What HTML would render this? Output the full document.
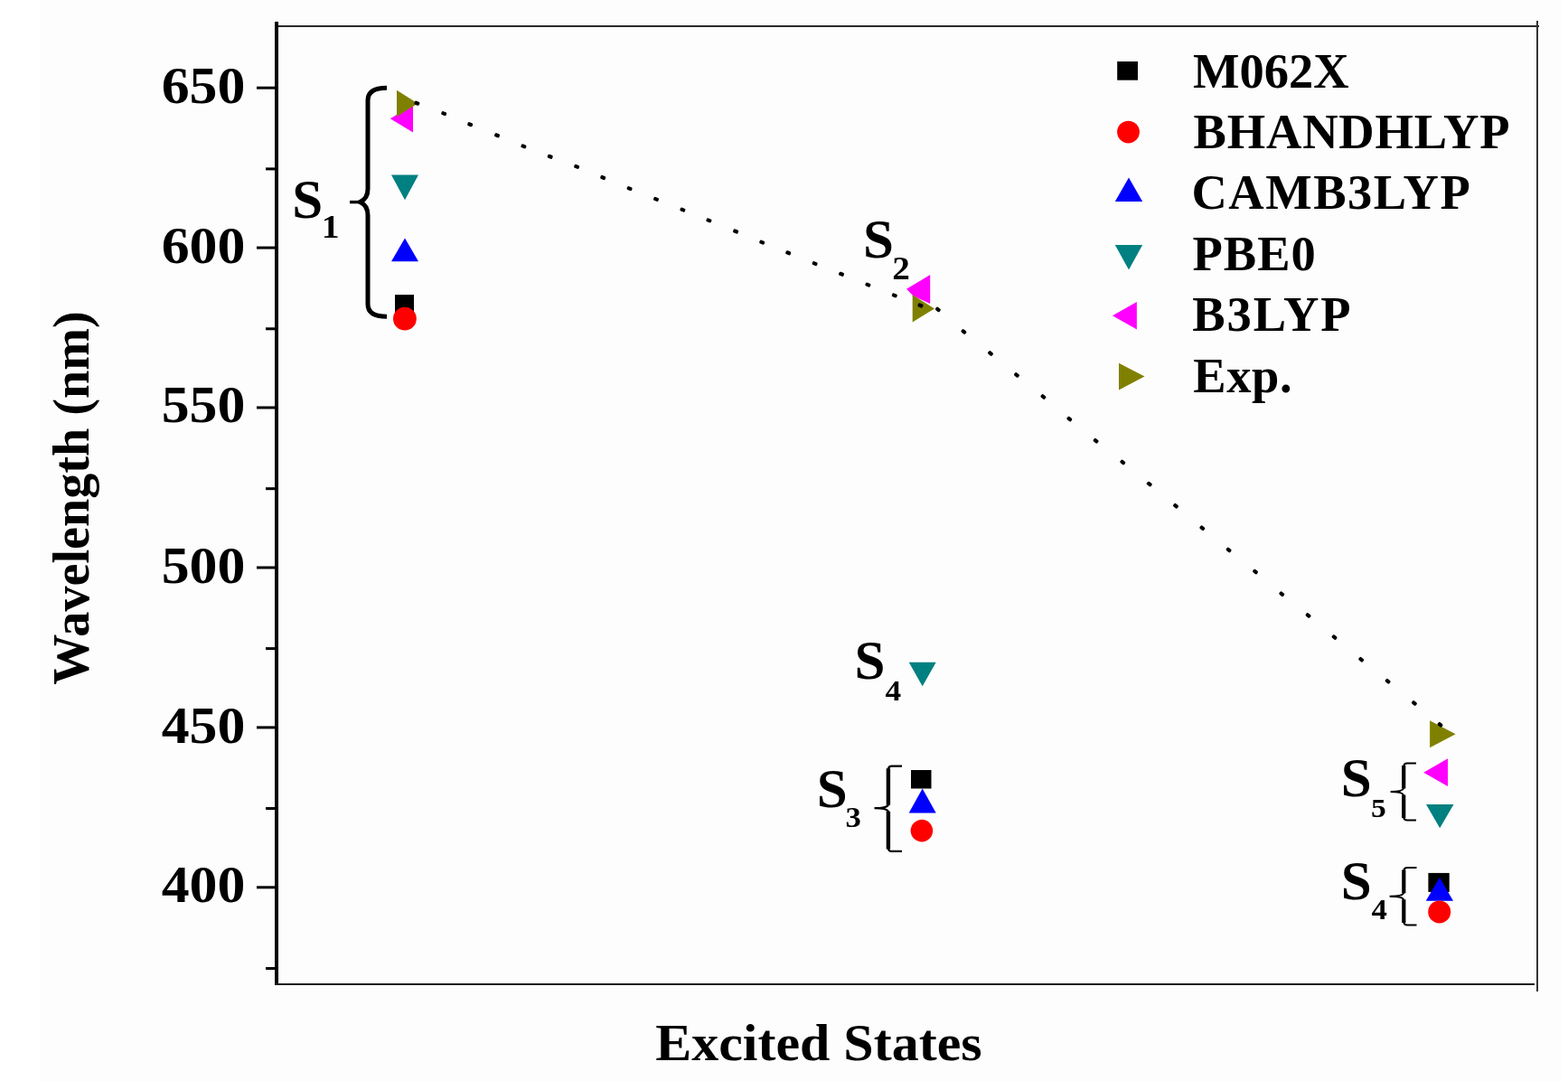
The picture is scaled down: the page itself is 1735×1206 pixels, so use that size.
<!DOCTYPE html>
<html><head><meta charset="utf-8"><title>Wavelength vs Excited States</title>
<style>
html,body{margin:0;padding:0;background:#fff;width:1735px;height:1206px;overflow:hidden}
svg{position:absolute;left:0;top:0;display:block}
text{font-family:"Liberation Serif","Times New Roman",serif;font-weight:bold;fill:#000}
</style></head><body>
<svg width="1735" height="1206" viewBox="0 0 1735 1206">
<rect x="44" y="0" width="1683" height="1197" fill="#fdfdfd"/>

<g shape-rendering="crispEdges">
<rect x="305" y="28" width="1398" height="2" fill="#2a2a2a"/>
<rect x="304" y="24" width="3.5" height="1066" fill="#000"/>
<rect x="304" y="1088" width="1394" height="2" fill="#1a1a1a"/>
<rect x="1700" y="23" width="2" height="1074" fill="#333"/>
</g>
<rect x="284" y="95.7" width="21" height="3" fill="#000"/>
<rect x="284" y="272.6" width="21" height="3" fill="#000"/>
<rect x="284" y="449.5" width="21" height="3" fill="#000"/>
<rect x="284" y="626.5" width="21" height="3" fill="#000"/>
<rect x="284" y="803.4" width="21" height="3" fill="#000"/>
<rect x="284" y="980.3" width="21" height="3" fill="#000"/>
<rect x="294" y="185.4" width="11" height="3" fill="#000"/>
<rect x="294" y="362.3" width="11" height="3" fill="#000"/>
<rect x="294" y="539.2" width="11" height="3" fill="#000"/>
<rect x="294" y="716.1" width="11" height="3" fill="#000"/>
<rect x="294" y="893.0" width="11" height="3" fill="#000"/>
<rect x="294" y="1070.0" width="11" height="3" fill="#000"/>
<text transform="translate(271.3 113.7) scale(1.065 1)" font-size="58" text-anchor="end">650</text>
<text transform="translate(271.3 290.5) scale(1.065 1)" font-size="58" text-anchor="end">600</text>
<text transform="translate(271.3 467.3) scale(1.065 1)" font-size="58" text-anchor="end">550</text>
<text transform="translate(271.3 644.9) scale(1.065 1)" font-size="58" text-anchor="end">500</text>
<text transform="translate(271.3 821.7) scale(1.065 1)" font-size="58" text-anchor="end">450</text>
<text transform="translate(271.3 998.4) scale(1.065 1)" font-size="58" text-anchor="end">400</text>
<text transform="translate(725.2 1172.5) scale(1.034 1)" font-size="58">Excited States</text>
<text transform="translate(97.8 757.8) rotate(-90)" font-size="56.2">Wavelength (nm)</text>
<g>
<polygon points="433.0,193.4 463.0,193.4 448.0,221.2" fill="#008080"/>
<polygon points="433.0,289.3 448.0,263.4 463.0,289.3" fill="#0000ff"/>
<rect x="437" y="326.1" width="21" height="21" fill="#000000"/>
<circle cx="447.9" cy="352.7" r="12.9" fill="#ff0000"/>
<polygon points="431.8,131.2 457.0,115.9 457.0,146.5" fill="#ff00ff"/>
<polygon points="439.0,99.8 462.3,114.4 439.0,129.0" fill="#808000"/>
<polygon points="1005.7,732.8 1035.7,732.8 1020.7,759.3" fill="#008080"/>
<rect x="1008" y="852" width="22.5" height="20.5" fill="#000000"/>
<polygon points="1005.7,899.5 1020.7,872.5 1035.7,899.5" fill="#0000ff"/>
<circle cx="1019.9" cy="919.1" r="12.3" fill="#ff0000"/>
<polygon points="1003.1,319.8 1029.2,303.9 1029.2,336 1010.6,327.5" fill="#ff00ff"/>
<polygon points="1009.7,326.3 1034.0,341.4 1009.7,356.4" fill="#808000"/>
<polygon points="1578.0,890.0 1608.5,890.0 1593.2,916.3" fill="#008080"/>
<rect x="1580.4" y="965.9" width="23.3" height="21" fill="#000000"/>
<polygon points="1577.8,996.7 1592.9,970.8 1608.0,996.7" fill="#0000ff"/>
<circle cx="1592.7" cy="1008.9" r="12.5" fill="#ff0000"/>
<polygon points="1575.2,854.7 1602.0,839.3 1602.0,870.1" fill="#ff00ff"/>
<polygon points="1582.1,797.2 1610.6,812.3 1582.1,827.3" fill="#808000"/>
</g>
<g>
<rect x="458.5" y="112.1" width="5.8" height="4.2" rx="1.5" transform="rotate(21.9 461.4 114.2)" fill="#000"/>
<rect x="488.3" y="123.5" width="5.8" height="4.2" rx="1.5" transform="rotate(21.9 491.2 125.6)" fill="#000"/>
<rect x="517.3" y="135.6" width="5.8" height="4.2" rx="1.5" transform="rotate(21.9 520.2 137.7)" fill="#000"/>
<rect x="547.1" y="147.7" width="5.8" height="4.2" rx="1.5" transform="rotate(21.9 550.0 149.8)" fill="#000"/>
<rect x="576.5" y="159.8" width="5.8" height="4.2" rx="1.5" transform="rotate(21.9 579.4 161.9)" fill="#000"/>
<rect x="605.8" y="171.2" width="5.8" height="4.2" rx="1.5" transform="rotate(21.9 608.7 173.3)" fill="#000"/>
<rect x="635.2" y="182.3" width="5.8" height="4.2" rx="1.5" transform="rotate(21.9 638.1 184.4)" fill="#000"/>
<rect x="664.3" y="194.4" width="5.8" height="4.2" rx="1.5" transform="rotate(21.9 667.2 196.5)" fill="#000"/>
<rect x="693.7" y="206.5" width="5.8" height="4.2" rx="1.5" transform="rotate(21.9 696.6 208.6)" fill="#000"/>
<rect x="723.1" y="218.3" width="5.8" height="4.2" rx="1.5" transform="rotate(21.9 726.0 220.4)" fill="#000"/>
<rect x="752.5" y="230.0" width="5.8" height="4.2" rx="1.5" transform="rotate(21.9 755.4 232.1)" fill="#000"/>
<rect x="781.5" y="241.8" width="5.8" height="4.2" rx="1.5" transform="rotate(21.9 784.4 243.9)" fill="#000"/>
<rect x="811.2" y="253.9" width="5.8" height="4.2" rx="1.5" transform="rotate(21.9 814.1 256.0)" fill="#000"/>
<rect x="840.3" y="266.0" width="5.8" height="4.2" rx="1.5" transform="rotate(21.9 843.2 268.1)" fill="#000"/>
<rect x="869.3" y="277.7" width="5.8" height="4.2" rx="1.5" transform="rotate(21.9 872.2 279.8)" fill="#000"/>
<rect x="898.7" y="289.5" width="5.8" height="4.2" rx="1.5" transform="rotate(21.9 901.6 291.6)" fill="#000"/>
<rect x="928.1" y="301.2" width="5.8" height="4.2" rx="1.5" transform="rotate(21.9 931.0 303.3)" fill="#000"/>
<rect x="957.5" y="313.0" width="5.8" height="4.2" rx="1.5" transform="rotate(21.9 960.4 315.1)" fill="#000"/>
<rect x="986.9" y="324.8" width="5.8" height="4.2" rx="1.5" transform="rotate(21.9 989.8 326.9)" fill="#000"/>
<rect x="1015.6" y="335.9" width="5.8" height="4.2" rx="1.5" transform="rotate(21.9 1018.5 338.0)" fill="#000"/>
<rect x="1035.0" y="340.3" width="5.8" height="4.2" rx="1.5" transform="rotate(39.5 1037.9 342.4)" fill="#000"/>
<rect x="1063.5" y="364.9" width="5.8" height="4.2" rx="1.5" transform="rotate(39.5 1066.4 367.0)" fill="#000"/>
<rect x="1093.1" y="388.9" width="5.8" height="4.2" rx="1.5" transform="rotate(39.5 1096.0 391.0)" fill="#000"/>
<rect x="1122.1" y="412.8" width="5.8" height="4.2" rx="1.5" transform="rotate(39.5 1125.0 414.9)" fill="#000"/>
<rect x="1151.5" y="436.9" width="5.8" height="4.2" rx="1.5" transform="rotate(39.5 1154.4 439.0)" fill="#000"/>
<rect x="1180.4" y="461.5" width="5.8" height="4.2" rx="1.5" transform="rotate(39.5 1183.3 463.6)" fill="#000"/>
<rect x="1209.7" y="485.6" width="5.8" height="4.2" rx="1.5" transform="rotate(39.5 1212.6 487.7)" fill="#000"/>
<rect x="1239.4" y="509.4" width="5.8" height="4.2" rx="1.5" transform="rotate(39.5 1242.3 511.5)" fill="#000"/>
<rect x="1268.8" y="533.5" width="5.8" height="4.2" rx="1.5" transform="rotate(39.5 1271.7 535.6)" fill="#000"/>
<rect x="1298.1" y="557.7" width="5.8" height="4.2" rx="1.5" transform="rotate(39.5 1301.0 559.8)" fill="#000"/>
<rect x="1327.4" y="582.2" width="5.8" height="4.2" rx="1.5" transform="rotate(39.5 1330.3 584.3)" fill="#000"/>
<rect x="1356.7" y="606.4" width="5.8" height="4.2" rx="1.5" transform="rotate(39.5 1359.6 608.5)" fill="#000"/>
<rect x="1386.1" y="630.5" width="5.8" height="4.2" rx="1.5" transform="rotate(39.5 1389.0 632.6)" fill="#000"/>
<rect x="1415.4" y="655.1" width="5.8" height="4.2" rx="1.5" transform="rotate(39.5 1418.3 657.2)" fill="#000"/>
<rect x="1444.7" y="678.8" width="5.8" height="4.2" rx="1.5" transform="rotate(39.5 1447.6 680.9)" fill="#000"/>
<rect x="1473.6" y="703.0" width="5.8" height="4.2" rx="1.5" transform="rotate(39.5 1476.5 705.1)" fill="#000"/>
<rect x="1503.3" y="727.6" width="5.8" height="4.2" rx="1.5" transform="rotate(39.5 1506.2 729.7)" fill="#000"/>
<rect x="1532.7" y="751.7" width="5.8" height="4.2" rx="1.5" transform="rotate(39.5 1535.6 753.8)" fill="#000"/>
<rect x="1562.0" y="775.9" width="5.8" height="4.2" rx="1.5" transform="rotate(39.5 1564.9 778.0)" fill="#000"/>
<rect x="1590.6" y="799.7" width="5.8" height="4.2" rx="1.5" transform="rotate(39.5 1593.5 801.8)" fill="#000"/>
</g>
<path d="M 428 97.2 C 416 97.2 407 100.5 407 111 L 407 209 C 407 216.5 404 221 398.5 223.6 C 404 226.2 407 230.5 407 238 L 407 336.4 C 407 346.9 416 350.2 428 350.2" fill="none" stroke="#000" stroke-width="5"/>
<path d="M 400 223.6 L 387 223.6" fill="none" stroke="#000" stroke-width="3.4"/>
<path d="M 982.9 850.2 L 982.9 890.7 M 982.9 897.7 L 982.9 939.4" fill="none" stroke="#000" stroke-width="4.4"/><path d="M 998 847.7 L 986.9 847.7 Q 982.9 847.7 982.9 851.7 M 998 941.9 L 986.9 941.9 Q 982.9 941.9 982.9 937.9 M 982.9 890.2 Q 981.9 894.2 967.5 894.2 Q 981.9 894.2 982.9 898.2" fill="none" stroke="#000" stroke-width="2.3"/>
<path d="M 1553.2 847.0 L 1553.2 872.5 M 1553.2 879.5 L 1553.2 905.1" fill="none" stroke="#000" stroke-width="4.2"/><path d="M 1567 844.5 L 1557.2 844.5 Q 1553.2 844.5 1553.2 848.5 M 1567 907.6 L 1557.2 907.6 Q 1553.2 907.6 1553.2 903.6 M 1553.2 872.0 Q 1552.2 876.0 1538.6 876 Q 1552.2 876.0 1553.2 880.0" fill="none" stroke="#000" stroke-width="2.0"/>
<path d="M 1553.3 962.5 L 1553.3 988.3 M 1553.3 995.3 L 1553.3 1020.9" fill="none" stroke="#000" stroke-width="4.2"/><path d="M 1567.5 960 L 1557.3 960 Q 1553.3 960 1553.3 964.0 M 1567.5 1023.4 L 1557.3 1023.4 Q 1553.3 1023.4 1553.3 1019.4 M 1553.3 987.8 Q 1552.3 991.8 1537.6 991.8 Q 1552.3 991.8 1553.3 995.8" fill="none" stroke="#000" stroke-width="2.0"/>
<text transform="translate(323.3 240.6) scale(1.0 1)" font-size="61">S</text><text transform="translate(355.7 262.9) scale(1.12 1)" font-size="35.5">1</text>
<text transform="translate(955.0 285.3) scale(1.0 1)" font-size="61">S</text><text transform="translate(987.2 309.3) scale(1.12 1)" font-size="35.0">2</text>
<text transform="translate(945.5 751.4) scale(1.0 1)" font-size="61">S</text><text transform="translate(979.4 774.6) scale(1.12 1)" font-size="31.5">4</text>
<text transform="translate(903.8 892.6) scale(1.0 1)" font-size="61">S</text><text transform="translate(935.6 915.4) scale(1.12 1)" font-size="31">3</text>
<text transform="translate(1483.8 880.9) scale(1.0 1)" font-size="61">S</text><text transform="translate(1516.9 903.9) scale(1.12 1)" font-size="30">5</text>
<text transform="translate(1483.8 995.2) scale(1.0 1)" font-size="61">S</text><text transform="translate(1517.4 1017.4) scale(1.12 1)" font-size="31">4</text>
<rect x="1236.2" y="68" width="22.8" height="20.7" fill="#000000"/>
<circle cx="1248.5" cy="146.1" r="12.4" fill="#ff0000"/>
<polygon points="1233.8,222.9 1249.0,196.6 1264.2,222.9" fill="#0000ff"/>
<polygon points="1233.8,271.0 1264.2,271.0 1249.0,298.6" fill="#008080"/>
<polygon points="1231.0,349.2 1257.9,333.9 1257.9,364.4" fill="#ff00ff"/>
<polygon points="1238.0,401.8 1266.5,416.6 1238.0,431.4" fill="#808000"/>
<text x="1320" y="96.5" font-size="54.5" letter-spacing="0">M062X</text>
<text x="1320.5" y="163.9" font-size="54.5" letter-spacing="0.85">BHANDHLYP</text>
<text x="1318.5" y="231.3" font-size="54.5" letter-spacing="1.5">CAMB3LYP</text>
<text x="1319.5" y="298.7" font-size="54.5" letter-spacing="1.0">PBE0</text>
<text x="1319.3" y="366.1" font-size="54.5" letter-spacing="1.9">B3LYP</text>
<text x="1320.3" y="433.5" font-size="54.5" letter-spacing="0.6">Exp.</text>
</svg>
</body></html>
